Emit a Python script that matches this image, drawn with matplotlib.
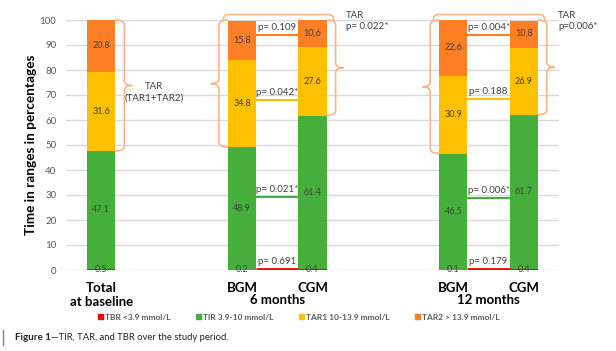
import numpy as np
import matplotlib.pyplot as plt
from matplotlib.path import Path
from matplotlib.patches import PathPatch, Patch
from matplotlib.lines import Line2D
import matplotlib.transforms as mtransforms

plt.rcParams['font.family'] = ['Lato', 'DejaVu Sans']

# data
categories = ['Total\nat baseline', 'BGM', 'CGM', 'BGM', 'CGM']
groups = ['6 months', '12 months']
tbr = [0.5, 0.2, 0.4, 0.1, 0.4]
tir = [47.1, 48.9, 61.4, 46.5, 61.7]
tar1 = [31.6, 34.8, 27.6, 30.9, 26.9]
tar2 = [20.8, 15.8, 10.6, 22.6, 10.8]
series_names = ['TBR <3.9 mmol/L', 'TIR 3.9-10 mmol/L', 'TAR1 10-13.9 mmol/L', 'TAR2 > 13.9 mmol/L']
p_6m = ['p= 0.691', 'p= 0.021*', 'p= 0.042*', 'p= 0.109']
p_12m = ['p= 0.179', 'p= 0.006*', 'p= 0.188', 'p= 0.004*']
p_tar = ['TAR\np= 0.022*', 'TAR\np=0.006*']

colors = ['#FF0000', '#46AE3B', '#FFC000', '#FF7F27']
brace_c = '#F9B48A'
txt_c = '#404040'

x = np.array([0, 2, 3, 5, 6])
w = 0.4
PX = 1 / 70.3   # x data units per pixel
PY = 1 / 2.5    # y data units per pixel

fig = plt.figure(figsize=(6.16, 3.51), dpi=100)
ax = fig.add_axes([66 / 616, 81 / 351, 493 / 616, 250 / 351])

vals = [tbr, tir, tar1, tar2]
bottom = np.zeros(len(x))
for v, c in zip(vals, colors):
    v = np.array(v)
    ax.bar(x, v, w, bottom=bottom, color=c, zorder=2)
    for xi, b, vi in zip(x, bottom, v):
        yy = b + vi / 2 if vi > 2 else 0
        ax.text(xi, yy, f'{vi:.1f}', ha='center', va='center', fontsize=6.5, color=txt_c, zorder=4)
    bottom = bottom + v

ax.set_xlim(-0.5, 6.5)
ax.set_ylim(0, 100)
ax.set_yticks(range(0, 101, 10))
ax.tick_params(axis='y', length=0, labelsize=7, labelcolor='#595959', pad=7)
ax.grid(axis='y', color='#D9D9D9', lw=1, zorder=0)
for s in ax.spines.values():
    s.set_visible(False)
ax.set_xticks(x)
ax.set_xticklabels(categories, fontsize=9.5, fontweight='bold', linespacing=1.15)
ax.tick_params(axis='x', length=0, pad=9)
ax.set_ylabel('Time in ranges in percentages', fontsize=9.8, fontweight='bold', labelpad=2)

trans = mtransforms.blended_transform_factory(ax.transData, ax.transAxes)
for gx, g in zip([2.5, 5.5], groups):
    ax.text(gx, -0.098, g, transform=trans, ha='center', va='top', fontsize=9.5, fontweight='bold')

# p-value connectors between BGM and CGM
levels_6m = [0.4, 29.2, 68.0, 94.0]
levels_12m = [0.4, 28.8, 68.4, 94.0]
for xc, labels, levels in [(2.5, p_6m, levels_6m), (5.5, p_12m, levels_12m)]:
    for i, (lab, lv) in enumerate(zip(labels, levels)):
        lw = 2 if i == 0 else 1.5
        ax.plot([xc - 0.3, xc + 0.3], [lv, lv], color=colors[i], lw=lw, zorder=3, solid_capstyle='butt')
        ax.text(xc, lv + 1.2, lab, ha='center', va='bottom', fontsize=7, color=txt_c, zorder=4)


def vbrace(xe, ytop, ybot, side):
    xl = xe + side * 9 * PX
    xt = xe + side * 17 * PX
    ym = (ytop + ybot) / 2
    ry = 5 * PY
    verts = [(xe, ytop), (xl, ytop), (xl, ytop - ry), (xl, ym + ry), (xl, ym), (xt, ym),
             (xl, ym), (xl, ym - ry), (xl, ybot + ry), (xl, ybot), (xe, ybot)]
    codes = [Path.MOVETO, Path.CURVE3, Path.CURVE3, Path.LINETO, Path.CURVE3, Path.CURVE3,
             Path.CURVE3, Path.CURVE3, Path.LINETO, Path.CURVE3, Path.CURVE3]
    ax.add_patch(PathPatch(Path(verts, codes), fc='none', ec=brace_c, lw=1.2, clip_on=False, zorder=3))


def hbrace(xa, xb):
    yb, yt = 99.5, 102.2
    rx = 5 * PX
    verts = [(xa, yb), (xa, yt), (xa + rx, yt), (xb - rx, yt), (xb, yt), (xb, yb)]
    codes = [Path.MOVETO, Path.CURVE3, Path.CURVE3, Path.LINETO, Path.CURVE3, Path.CURVE3]
    ax.add_patch(PathPatch(Path(verts, codes), fc='none', ec=brace_c, lw=1.2, clip_on=False, zorder=3))


low = np.array(tbr) + np.array(tir)
vbrace(x[0] + w / 2, 100, low[0], 1)
vbrace(x[1] - w / 2, 100, low[1], -1)
vbrace(x[2] + w / 2, 100, low[2], 1)
vbrace(x[3] - w / 2, 100, low[3], -1)
vbrace(x[4] + w / 2, 100, low[4], 1)
hbrace(x[1] - w / 2 - 5 * PX, x[2] + w / 2 + 7 * PX)
hbrace(x[3] - w / 2 - 6 * PX, x[4] + w / 2 + 7 * PX)

ax.text(0.75, 71, 'TAR\n(TAR1+TAR2)', ha='center', va='center', fontsize=7, color=txt_c, linespacing=1.3)
ax.text(x[2] + 0.47, 103.8, p_tar[0], ha='left', va='top', fontsize=7, color=txt_c, linespacing=1.35)
ax.text(x[4] + 0.49, 103.8, p_tar[1], ha='left', va='top', fontsize=7, color=txt_c, linespacing=1.35)

handles = [Patch(color=c) for c in colors]
leg = fig.legend(handles, series_names, loc='center', bbox_to_anchor=(0.485, 34 / 351), ncol=4,
                 frameon=False, fontsize=6, handlelength=0.6, handleheight=0.6, handletextpad=0.3,
                 columnspacing=3.0)
for t in leg.get_texts():
    t.set_color('#595959')
    t.set_fontweight('bold')

t1 = fig.text(15 / 616, 13 / 351, 'Figure 1', fontsize=7, fontweight='bold', color='#222222', va='center')
ax.annotate('\u2014TIR, TAR, and TBR over the study period.', xy=(1, 0.5), xycoords=t1,
            va='center', ha='left', fontsize=6.8, color='#222222', annotation_clip=False)
fig.add_artist(Line2D([3 / 616, 3 / 616], [6 / 351, 21 / 351], color='#808080', lw=1))

fig.savefig('out.png', dpi=100)
